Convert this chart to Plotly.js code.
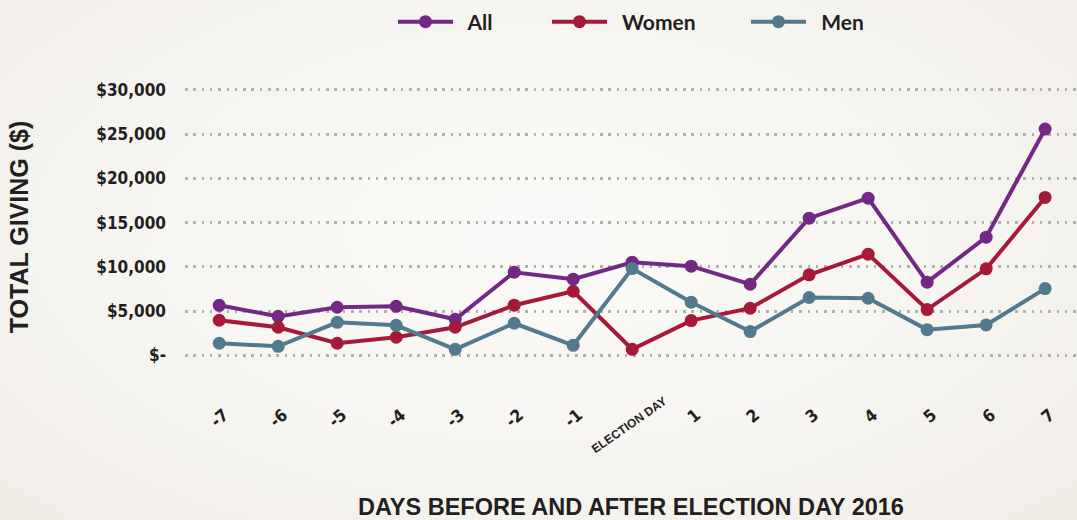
<!DOCTYPE html>
<html>
<head>
<meta charset="utf-8">
<script src="https://cdn.plot.ly/plotly-3.0.1.min.js"></script>
<style>
  html, body { margin: 0; padding: 0; }
  body {
    width: 1077px; height: 520px; overflow: hidden;
    background: radial-gradient(ellipse at 50% 45%, #fbfaf8 0%, #f7f5f1 55%, #f0ede7 100%);
  }
  #chart { width: 1077px; height: 520px; }
</style>
</head>
<body>
<div id="chart"></div>
<script>
// ---- data ----
const days = ['-7', '-6', '-5', '-4', '-3', '-2', '-1', 'ELECTION DAY', '1', '2', '3', '4', '5', '6', '7'];
const allGiving   = [5650, 4400, 5430, 5540, 4070, 9390, 8600, 10520, 10070, 8030, 15500, 17760, 8260, 13350, 25570];
const womenGiving = [3960, 3170, 1360, 2040, 3170, 5660, 7240,   680,  3920, 5320,  9090, 11430, 5170,  9770, 17840];
const menGiving   = [1360, 1020, 3730, 3390,  680, 3620, 1130,  9800,  6000, 2680,  6530,  6450, 2900,  3430,  7540];
const yTickVals   = [0, 5000, 10000, 15000, 20000, 25000, 30000];
const yTickText   = ['$-', '$5,000', '$10,000', '$15,000', '$20,000', '$25,000', '$30,000'];
const seriesNames = ['All', 'Women', 'Men'];
const seriesColors = ['#722983', '#a61a39', '#527a8f'];
const specialDay = 'ELECTION DAY';

const values = [allGiving, womenGiving, menGiving];
const legendIds = ['legend', 'legend2', 'legend3'];
const traces = values.map((v, i) => ({
  type: 'scatter',
  mode: 'lines+markers',
  name: '\u00a0\u00a0' + seriesNames[i],
  legend: legendIds[i],
  x: days,
  y: v,
  line: { color: seriesColors[i], width: 4 },
  marker: { color: seriesColors[i], size: 13 },
  hoverinfo: 'x+y'
}));

const condensed = 'DejaVu Sans Condensed, Liberation Sans Narrow, sans-serif';
const titleFont = { family: 'Liberation Sans, Arial, sans-serif', size: 23.5, color: '#231f20', weight: 700 };

function legendAt(px) {
  return {
    orientation: 'h',
    x: px / 1077, xref: 'container', xanchor: 'left',
    y: 1 - 22 / 520, yref: 'container', yanchor: 'middle',
    font: { family: 'Lato, Open Sans, sans-serif', size: 21, color: '#231f20', weight: 700 },
    itemwidth: 55,
    bgcolor: 'rgba(0,0,0,0)'
  };
}

const layout = {
  width: 1077,
  height: 520,
  paper_bgcolor: 'rgba(0,0,0,0)',
  plot_bgcolor: 'rgba(0,0,0,0)',
  margin: { l: 185, r: 0, t: 81, b: 147, pad: 0 },
  showlegend: true,
  legend: legendAt(393),
  legend2: legendAt(547),
  legend3: legendAt(746),
  xaxis: {
    type: 'category',
    categoryorder: 'array',
    categoryarray: days,
    range: [-0.58, 14.54],
    tickmode: 'array',
    tickvals: days,
    ticktext: days.map(d => d === specialDay ? '' : d),
    tickangle: -40,
    tickfont: { family: condensed, size: 17, color: '#231f20', weight: 700 },
    ticks: '',
    showline: false,
    showgrid: false,
    zeroline: false,
    ticklabelstandoff: 28,
    ticklabelshift: 5,
    fixedrange: true,
    automargin: false,
    title: {
      text: 'DAYS BEFORE AND AFTER ELECTION DAY 2016',
      font: titleFont,
      standoff: 70
    }
  },
  yaxis: {
    range: [-2000, 31000],
    tickmode: 'array',
    tickvals: yTickVals,
    ticktext: yTickText,
    tickfont: { family: condensed, size: 17, color: '#231f20', weight: 700 },
    ticks: '',
    showline: false,
    zeroline: false,
    showgrid: true,
    gridcolor: '#b3b0ab',
    gridwidth: 2.5,
    griddash: '2.5px,5.8px',
    ticklabelstandoff: 18,
    fixedrange: true,
    automargin: false,
    title: {
      text: 'TOTAL GIVING ($)',
      font: Object.assign({}, titleFont, { size: 25 }),
      standoff: 60
    }
  },
  annotations: [{
    xref: 'x', yref: 'paper',
    x: specialDay, y: -0.178,
    text: specialDay,
    showarrow: false,
    textangle: -35,
    xanchor: 'center', yanchor: 'middle',
    xshift: -3,
    font: { family: 'Liberation Sans, Arial, sans-serif', size: 12, color: '#231f20', weight: 700 }
  }]
};

Plotly.newPlot('chart', traces, layout, { displayModeBar: false, responsive: false });
</script>
</body>
</html>
